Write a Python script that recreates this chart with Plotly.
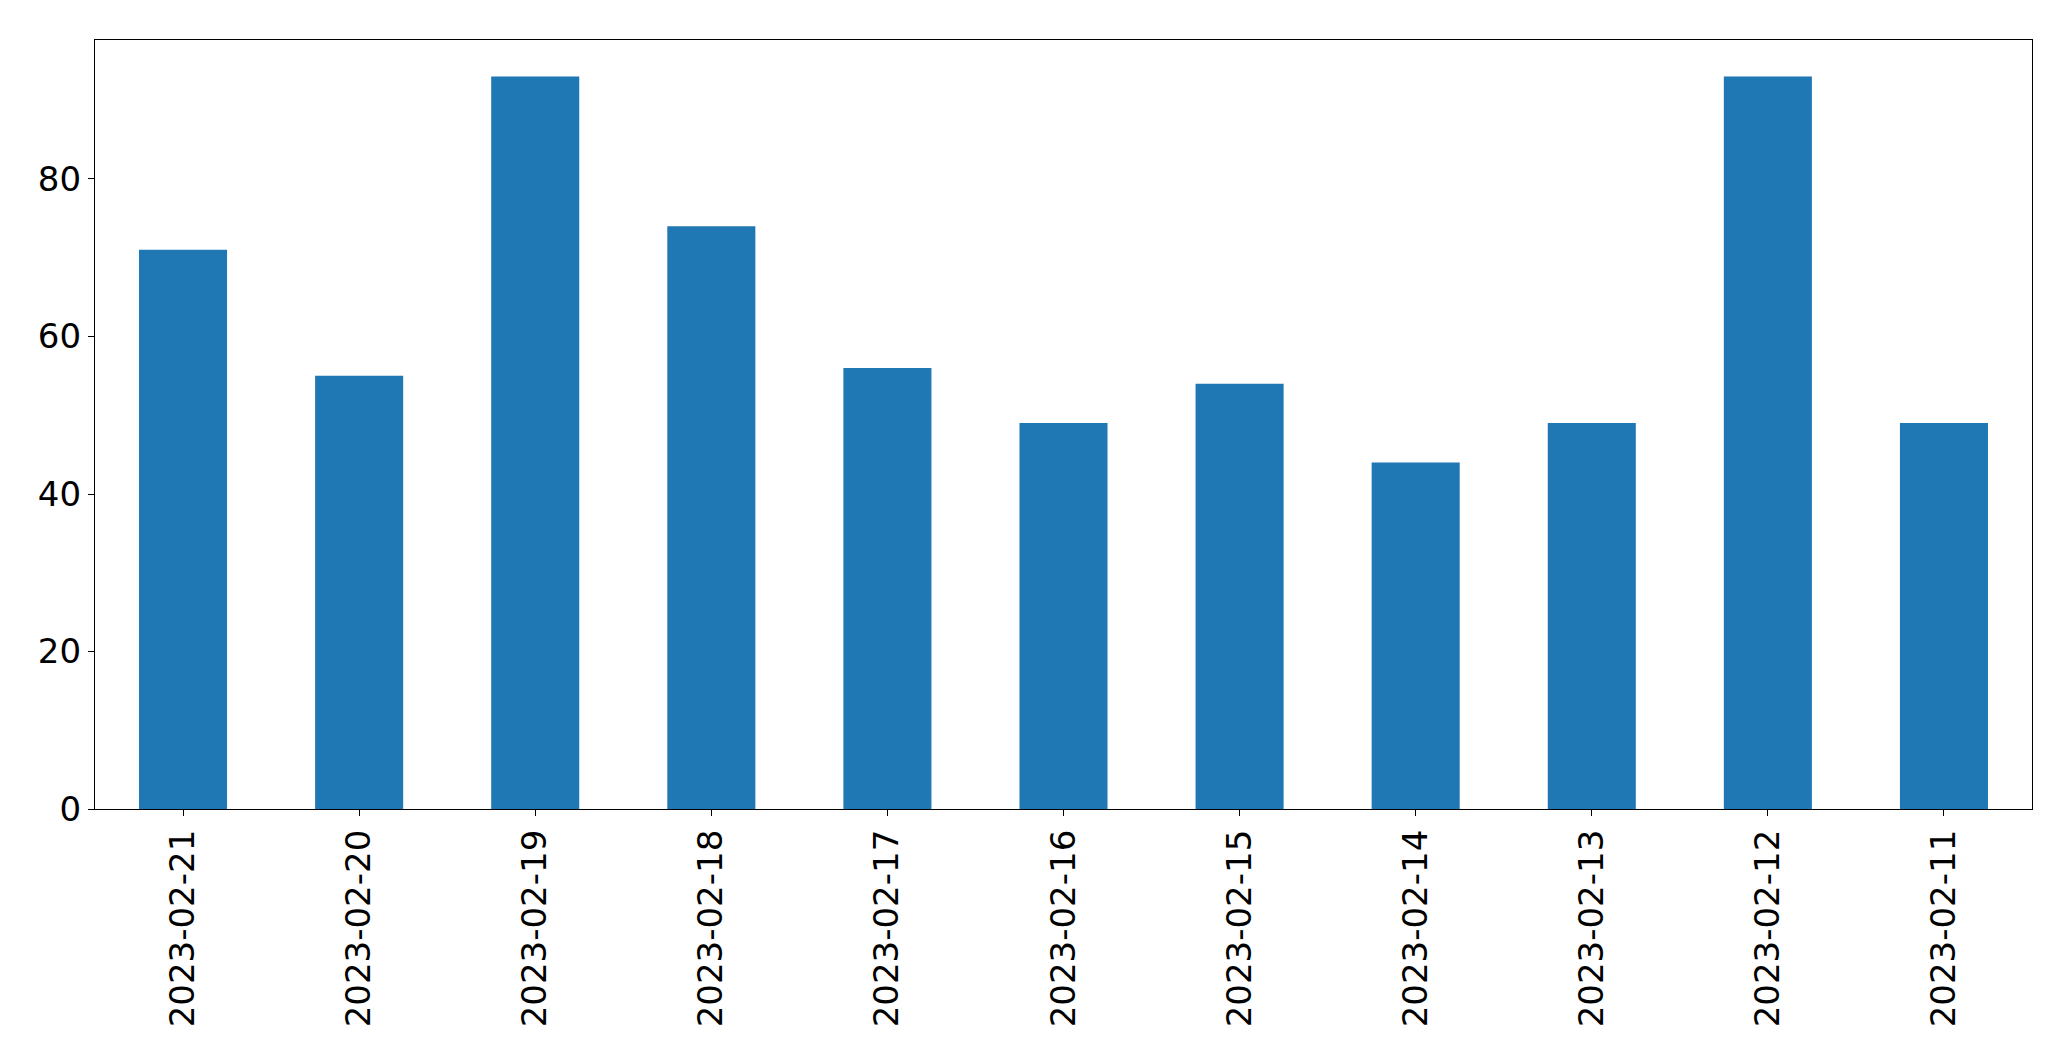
import plotly.graph_objects as go

# Data
dates = ["2023-02-21", "2023-02-20", "2023-02-19", "2023-02-18", "2023-02-17", "2023-02-16",
         "2023-02-15", "2023-02-14", "2023-02-13", "2023-02-12", "2023-02-11"]
counts = [71, 55, 93, 74, 56, 49, 54, 44, 49, 93, 49]
y_ticks = [0, 20, 40, 60, 80]

fig = go.Figure()

fig.add_trace(go.Bar(
    x=dates,
    y=counts,
    width=0.5,
    marker_color='#1f77b4',
    marker_line_width=0,
))

axis_style = dict(
    showline=True,
    linecolor='black',
    linewidth=1.3,
    mirror=True,
    showgrid=False,
    zeroline=False,
    ticks='outside',
    ticklen=6,
    tickwidth=1.3,
    tickcolor='black',
    tickfont=dict(family='DejaVu Sans', size=34, color='black'),
)

# page body adds ~8px margin, so figure is slightly smaller than the window
fig.update_layout(
    width=2055,
    height=1045,
    autosize=False,
    margin=dict(l=86.5, r=31, t=31.5, b=244),
    plot_bgcolor='white',
    paper_bgcolor='white',
    showlegend=False,
)

fig.update_xaxes(type='category', range=[-0.5, 10.5], tickangle=-90, **axis_style)
fig.update_yaxes(range=[0, 97.65], tickvals=y_ticks, **axis_style)

fig.write_html("out.html")
